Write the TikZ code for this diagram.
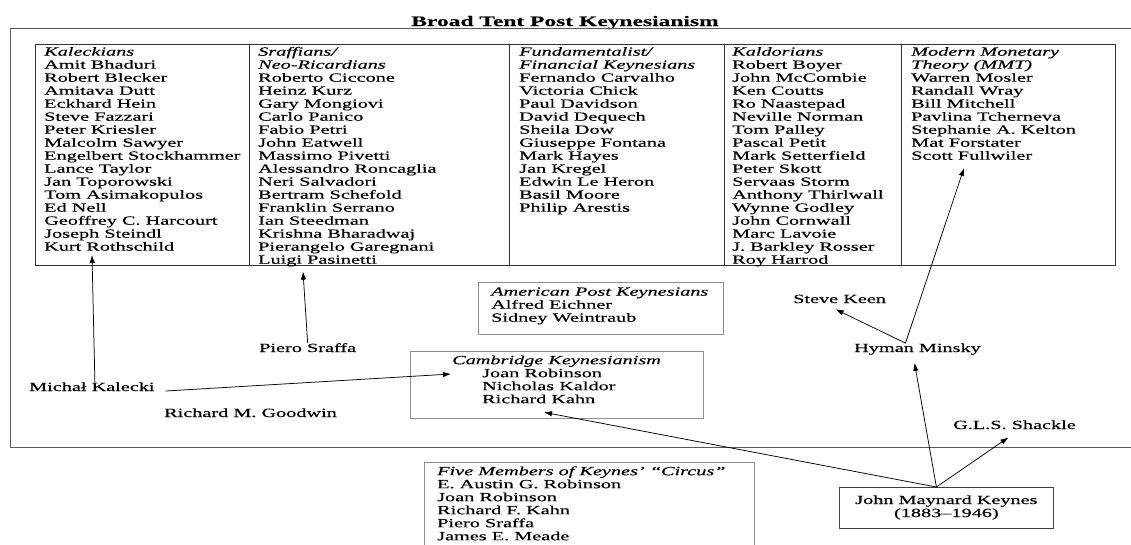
\documentclass[tikz,border=0pt]{standalone}
\usepackage{fontspec}
\setmainfont{Liberation Serif}[FakeStretch=1.62, FakeBold=0.4]
\usetikzlibrary{arrows.meta}
\begin{document}
\begin{tikzpicture}[x=1pt, y=-1pt, line join=round, line cap=round, >={Latex[length=8pt,width=5.5pt]},
	every node/.style={inner sep=0pt, font=\fontsize{12.5}{13}\selectfont},
	names/.style={align=left, anchor=north west},
	who/.style={anchor=base west},
	panel/.style={draw=black!45, line width=0.8pt, anchor=north west},
	link/.style={->, line width=0.75pt}]
	\useasboundingbox (0,0) rectangle (1131,544);
	\node[anchor=base, font=\fontsize{14.5}{16}\selectfont\bfseries] (title) at (565,26) {Broad Tent Post Keynesianism};
	\draw[black!65, line width=0.9pt] (1131,28)--(10,28)--(10,447)--(1131,447);
	\draw[black!80, line width=0.9pt] (35,44) rectangle (1115,265.5);
	\foreach \x in {249,509,724,901}
		\draw[black!80, line width=0.9pt] (\x,44)--(\x,265.5);
	\node[names] (kaleckians) at (44,46.4) {\strut\textit{Kaleckians}\\Amit Bhaduri\\Robert Blecker\\Amitava Dutt\\Eckhard Hein\\Steve Fazzari\\Peter Kriesler\\Malcolm Sawyer\\Engelbert Stockhammer\\Lance Taylor\\Jan Toporowski\\Tom Asimakopulos\\Ed Nell\\Geoffrey C. Harcourt\\Joseph Steindl\\Kurt Rothschild};
	\node[names] (sraffians) at (258,46.4) {\strut\textit{Sraffians/}\\\textit{Neo-Ricardians}\\Roberto Ciccone\\Heinz Kurz\\Gary Mongiovi\\Carlo Panico\\Fabio Petri\\John Eatwell\\Massimo Pivetti\\Alessandro Roncaglia\\Neri Salvadori\\Bertram Schefold\\Franklin Serrano\\Ian Steedman\\Krishna Bharadwaj\\Pierangelo Garegnani\\Luigi Pasinetti};
	\node[names] (fundamentalists) at (519,46.4) {\strut\textit{Fundamentalist/}\\\textit{Financial Keynesians}\\Fernando Carvalho\\Victoria Chick\\Paul Davidson\\David Dequech\\Sheila Dow\\Giuseppe Fontana\\Mark Hayes\\Jan Kregel\\Edwin Le Heron\\Basil Moore\\Philip Arestis};
	\node[names] (kaldorians) at (732,46.4) {\strut\textit{Kaldorians}\\Robert Boyer\\John McCombie\\Ken Coutts\\Ro Naastepad\\Neville Norman\\Tom Palley\\Pascal Petit\\Mark Setterfield\\Peter Skott\\Servaas Storm\\Anthony Thirlwall\\Wynne Godley\\John Cornwall\\Marc Lavoie\\J. Barkley Rosser\\Roy Harrod};
	\node[names] (mmt) at (911,46.4) {\strut\textit{Modern Monetary}\\\textit{Theory (MMT)}\\Warren Mosler\\Randall Wray\\Bill Mitchell\\Pavlina Tcherneva\\Stephanie A. Kelton\\Mat Forstater\\Scott Fullwiler};
	\node[panel, minimum width=244.5pt, minimum height=52pt] (american) at (478,282) {};
	\node[names] (americanList) at (491,286.4) {\strut\textit{American Post Keynesians}\\Alfred Eichner\\Sidney Weintraub};
	\node[panel, minimum width=292.5pt, minimum height=66.5pt] (cambridge) at (410,351) {};
	\node[names] (cambridgeList) at (452,354.9) {\strut\textit{Cambridge Keynesianism}\\\hspace*{30pt}Joan Robinson\\\hspace*{30pt}Nicholas Kaldor\\\hspace*{30pt}Richard Kahn};
	\node[panel, minimum width=330pt, minimum height=100pt] (circus) at (424,462) {};
	\node[names] (circusList) at (437,465.9) {\strut\textit{Five Members of Keynes’ “Circus”}\\E. Austin G. Robinson\\Joan Robinson\\Richard F. Kahn\\Piero Sraffa\\James E. Meade};
	\node[panel, draw=black!75, minimum width=214pt, minimum height=41pt, align=center] (keynes) at (839,487) {\strut John Maynard Keynes\\(1883--1946)\strut};
	\node[who] (kalecki) at (29,391) {Michał Kalecki};
	\node[who] (goodwin) at (164,417) {Richard M. Goodwin};
	\node[who] (sraffa) at (259,352) {Piero Sraffa};
	\node[who] (keen) at (793,303) {Steve Keen};
	\node[who] (minsky) at (854,352) {Hyman Minsky};
	\node[who] (shackle) at (953,429) {G.L.S. Shackle};
	\draw[link] ([xshift=3pt]kalecki.north)--([shift={(48,4)}]kaleckians.south west);
	\draw[link] ([xshift=11pt]kalecki.base east)--([shift={(41,23)}]cambridge.north west);
	\draw[link] (sraffa.north)--([shift={(45,5)}]sraffians.south west);
	\draw[link] ([xshift=-12pt]minsky.north)--([shift={(-4,6)}]keen.south);
	\draw[link] ([xshift=-12pt]minsky.north)--([shift={(53,8)}]mmt.south west);
	\draw[link] ([xshift=-10pt]keynes.north)--([shift={(134,-6)}]cambridge.south west);
	\draw[link] ([xshift=-10pt]keynes.north)--([shift={(-3,8)}]minsky.south);
	\draw[link] ([xshift=-10pt]keynes.north)--([shift={(-6,8)}]shackle.south);
\end{tikzpicture}
\end{document}
